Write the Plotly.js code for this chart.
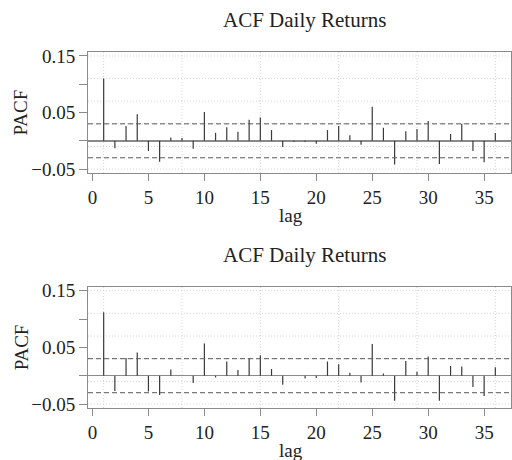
<!DOCTYPE html>
<html>
<head>
<meta charset="utf-8">
<script src="https://cdn.plot.ly/plotly-3.0.1.min.js"></script>
<style>html,body{margin:0;padding:0;background:#fff;}#chart{width:512px;height:460px;}</style>
</head>
<body>
<div id="chart"></div>
<script>
const lags = [1,2,3,4,5,6,7,8,9,10,11,12,13,14,15,16,17,18,19,20,21,22,23,24,25,26,27,28,29,30,31,32,33,34,35,36];
const pacfTop = [0.110,-0.013,0.026,0.047,-0.018,-0.037,0.006,0.005,-0.014,0.051,0.014,0.024,0.016,0.037,0.041,0.019,-0.011,-0.002,-0.002,-0.005,0.019,0.026,0.010,-0.007,0.060,0.023,-0.042,0.017,0.021,0.035,-0.041,0.012,0.030,-0.018,-0.038,0.014];
const pacfBottom = [0.112,-0.027,0.031,0.041,-0.028,-0.034,0.011,0.000,-0.013,0.057,-0.003,0.025,0.010,0.031,0.036,0.012,-0.016,0.000,-0.005,-0.004,0.025,0.020,0.005,-0.012,0.056,0.004,-0.044,0.026,0.007,0.034,-0.044,0.017,0.016,-0.020,-0.036,0.015];
const panelTitles = ["ACF Daily Returns", "ACF Daily Returns"];
const yLabel = "PACF";
const xLabel = "lag";
const xTicks = [0,5,10,15,20,25,30,35];
const yTicks = [-0.05,0,0.05,0.10,0.15];
const yTickText = ["\u22120.05","","0.05","","0.15"];
const gridX = [1,8,15,22,29,36];
const gridY = [-0.05,-0.01,0.03,0.07,0.11,0.15];
const ciBound = 0.03;

const FONT = "Liberation Serif, Times New Roman, serif";
const AX = "#8a8a8a";

function spikes(vals) {
  const xs = [], ys = [];
  lags.forEach((l, i) => { xs.push(l, l, null); ys.push(0, vals[i], null); });
  return {xs, ys};
}

const s1 = spikes(pacfTop), s2 = spikes(pacfBottom);
const traces = [
  {x: s1.xs, y: s1.ys, xaxis: 'x', yaxis: 'y', type: 'scatter', mode: 'lines',
   line: {color: '#3a3a3a', width: 1.2}, hoverinfo: 'skip', showlegend: false},
  {x: s2.xs, y: s2.ys, xaxis: 'x2', yaxis: 'y2', type: 'scatter', mode: 'lines',
   line: {color: '#3a3a3a', width: 1.2}, hoverinfo: 'skip', showlegend: false}
];

function xa(anchor) {
  return {anchor: anchor, range: [-0.4, 37.4], tickmode: 'array', tickvals: xTicks,
    showgrid: false, zeroline: false, showline: true, mirror: true, linecolor: AX, linewidth: 1,
    ticks: 'outside', ticklen: 7, tickcolor: AX, tickwidth: 1,
    tickfont: {family: FONT, size: 19, color: '#222'}};
}
function ya(anchor, domain) {
  return {anchor: anchor, domain: domain, range: [-0.057, 0.157], tickmode: 'array',
    tickvals: yTicks, ticktext: yTickText,
    showgrid: false, zeroline: true, zerolinecolor: AX, zerolinewidth: 1.5,
    showline: true, mirror: true, linecolor: AX, linewidth: 1,
    ticks: 'outside', ticklen: 8, tickcolor: AX, tickwidth: 1,
    tickfont: {family: FONT, size: 19, color: '#222'}};
}

const shapes = [];
[['x','y'],['x2','y2']].forEach(([xr, yr]) => {
  gridX.forEach(g => shapes.push({type: 'line', layer: 'below', xref: xr, yref: yr + ' domain',
    x0: g, x1: g, y0: 0, y1: 1, line: {color: '#d3d3d3', width: 1, dash: '1px,2px'}}));
  gridY.forEach(g => shapes.push({type: 'line', layer: 'below', xref: xr + ' domain', yref: yr,
    x0: 0, x1: 1, y0: g, y1: g, line: {color: '#d3d3d3', width: 1, dash: '1px,2px'}}));
  [ciBound, -ciBound].forEach(c => shapes.push({type: 'line', layer: 'above', xref: xr + ' domain', yref: yr,
    x0: 0, x1: 1, y0: c, y1: c, line: {color: '#5a5a5a', width: 1, dash: '5px,3px'}}));
});

const topDom = [0.660, 1], botDom = [0, 0.3407];
const annotations = [];
[[topDom, 0], [botDom, 1]].forEach(([dom, i]) => {
  annotations.push({text: panelTitles[i], xref: 'paper', yref: 'paper', x: 0.511, y: dom[1],
    xanchor: 'center', yanchor: 'bottom', yshift: 18, showarrow: false,
    font: {family: FONT, size: 21, color: '#222'}});
  annotations.push({text: xLabel, xref: 'paper', yref: 'paper', x: 0.48, y: dom[0],
    xanchor: 'center', yanchor: 'top', yshift: -30, showarrow: false,
    font: {family: FONT, size: 19, color: '#222'}});
  annotations.push({text: yLabel, xref: 'paper', yref: 'paper', x: 0, xshift: -67, y: (dom[0] + dom[1]) / 2,
    xanchor: 'center', yanchor: 'middle', textangle: -90, showarrow: false,
    font: {family: FONT, size: 19, color: '#222'}});
});

const layout = {
  width: 512, height: 460,
  margin: {l: 88, r: 1, t: 52, b: 52},
  paper_bgcolor: '#fff', plot_bgcolor: '#fff',
  showlegend: false,
  xaxis: xa('y'), yaxis: ya('x', topDom),
  xaxis2: xa('y2'), yaxis2: ya('x2', botDom),
  shapes: shapes, annotations: annotations,
  font: {family: FONT}
};

Plotly.newPlot('chart', traces, layout, {staticPlot: true, displayModeBar: false});
</script>
</body>
</html>
